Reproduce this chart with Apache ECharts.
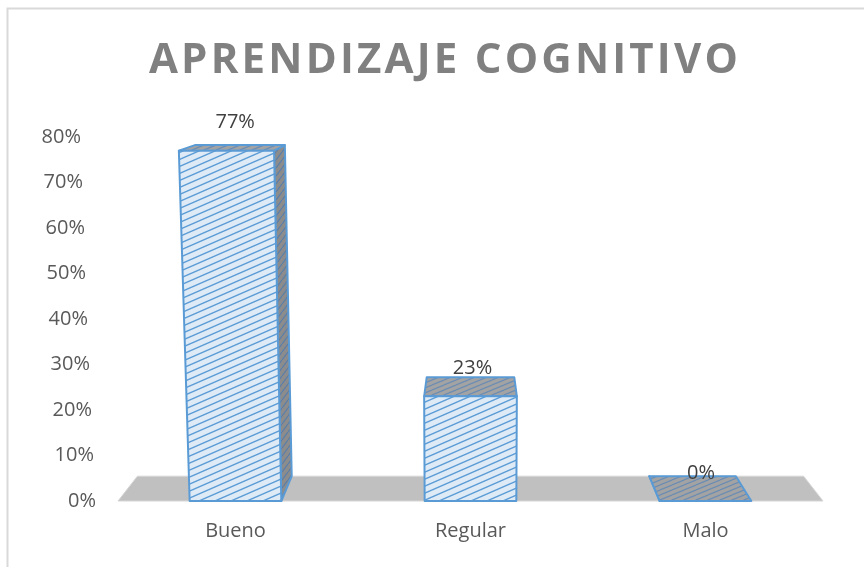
<!DOCTYPE html>
<html>
<head>
<meta charset="utf-8">
<script src="https://cdn.jsdelivr.net/npm/echarts@6/dist/echarts.min.js"></script>
<style>
  html, body { margin: 0; background: #fff; }
  #main { width: 864px; height: 567px; }
</style>
</head>
<body>
<div id="main"></div>
<script>
const titleText = 'APRENDIZAJE COGNITIVO'
const categories = ['Bueno', 'Regular', 'Malo']
const values = [77, 23, 0]
const yTicks = [0, 10, 20, 30, 40, 50, 60, 70, 80]

const FONT = '"Open Sans", "Noto Sans", sans-serif'
const DEPTH = 0.945      // back plane scale of the 3D box
const VP_RISE = 451      // vanishing point above the floor front edge
const SHEAR = 1.1e-4     // slight lean of the vertical edges

// the title is letter-spaced in the original; zrender has no option for it
const baseFillText = CanvasRenderingContext2D.prototype.fillText
CanvasRenderingContext2D.prototype.fillText = function (text, x, y, maxWidth) {
  if (text === titleText && 'letterSpacing' in this) {
    const old = this.letterSpacing
    this.letterSpacing = '3.2px'
    baseFillText.call(this, text, x, y, maxWidth)
    this.letterSpacing = old
    return
  }
  return maxWidth === undefined ? baseFillText.call(this, text, x, y) : baseFillText.call(this, text, x, y, maxWidth)
}

// small hatch tile used as a pattern fill
function hatch(bg, line, w, h, lw) {
  const c = document.createElement('canvas')
  c.width = w
  c.height = h
  const ctx = c.getContext('2d')
  ctx.fillStyle = bg
  ctx.fillRect(0, 0, w, h)
  ctx.strokeStyle = line
  ctx.lineWidth = lw
  ctx.beginPath()
  for (let k = -1; k <= 1; k++) {
    ctx.moveTo(0, h + k * h)
    ctx.lineTo(w, k * h)
  }
  ctx.stroke()
  return c
}
const frontFill = { image: hatch('#deebf7', '#5b9bd5', 16, 7, 1.4), repeat: 'repeat' }
const topFill = { image: hatch('#a3a3a3', '#6b8cb3', 12, 5, 1.2), repeat: 'repeat' }
const sideFill = { image: hatch('#8c8c8c', '#5a7ea8', 6, 8, 1.2), repeat: 'repeat' }

function project(p, vp) {
  return [vp[0] + (p[0] - vp[0]) * DEPTH, vp[1] + (p[1] - vp[1]) * DEPTH]
}

function renderFloor(params, api) {
  const cs = params.coordSys
  const base = api.coord([0, 0])[1]
  const vp = [cs.x + cs.width / 2, base - VP_RISE]
  const l = [cs.x, base]
  const r = [cs.x + cs.width, base]
  return {
    type: 'polygon',
    shape: { points: [l, r, project(r, vp), project(l, vp)] },
    style: { fill: '#c0c0c0', stroke: '#d6d6d6', lineWidth: 1 },
    silent: true
  }
}

function renderBar(params, api) {
  const cs = params.coordSys
  const bottom = api.coord([api.value(0), 0])
  const top = api.coord([api.value(0), api.value(1)])
  const vp = [cs.x + cs.width / 2, bottom[1] - VP_RISE]
  const w = api.size([1, 0])[0] * 0.39
  const xl = bottom[0] - w / 2
  const xr = bottom[0] + w / 2
  const lean = (x, y) => x + (x - vp[0]) * (bottom[1] - y) * SHEAR
  const flb = [xl, bottom[1]]
  const frb = [xr, bottom[1]]
  const flt = [lean(xl, top[1]), top[1]]
  const frt = [lean(xr, top[1]), top[1]]
  const blb = project(flb, vp)
  const brb = project(frb, vp)
  const blt = project(flt, vp)
  const brt = project(frt, vp)
  const edge = { stroke: '#5b9bd5', lineWidth: 2, lineJoin: 'round' }
  const children = []
  if (frt[0] < vp[0] - 1) {
    children.push({ type: 'polygon', shape: { points: [frb, brb, brt, frt] }, style: Object.assign({ fill: sideFill }, edge) })
  } else if (flt[0] > vp[0] + 1) {
    children.push({ type: 'polygon', shape: { points: [flb, blb, blt, flt] }, style: Object.assign({ fill: sideFill }, edge) })
  }
  children.push({ type: 'polygon', shape: { points: [flt, frt, brt, blt] }, style: Object.assign({ fill: topFill }, edge) })
  if (bottom[1] - top[1] > 0.5) {
    children.push({ type: 'polygon', shape: { points: [flb, frb, frt, flt] }, style: Object.assign({ fill: frontFill }, edge) })
  }
  children.push({
    type: 'text',
    x: (flt[0] + frt[0] + blt[0] + brt[0]) / 4 + 2,
    y: top[1] - 28,
    style: {
      text: api.value(1) + '%',
      fill: '#404040',
      font: '20px ' + FONT,
      align: 'center',
      verticalAlign: 'middle'
    }
  })
  return { type: 'group', children: children }
}

const rich = {}
yTicks.forEach((t, i) => {
  rich['p' + i] = {
    fontSize: 20,
    fontFamily: FONT,
    color: '#595959',
    padding: [0, Math.round(t * 0.19), 0, 0]
  }
})

const chart = echarts.init(document.getElementById('main'))
chart.setOption({
  animation: false,
  backgroundColor: '#fff',
  title: {
    text: titleText,
    left: 440,
    top: 35,
    textAlign: 'center',
    textStyle: {
      fontFamily: FONT,
      fontSize: 42,
      fontWeight: 'bold',
      color: '#808080'
    }
  },
  graphic: [
    {
      type: 'rect',
      shape: { x: 7.5, y: 8.5, width: 900, height: 600 },
      style: { fill: 'none', stroke: '#d9d9d9', lineWidth: 2 },
      silent: true,
      z: -10
    }
  ],
  grid: {
    left: 118,
    right: 41,
    top: 137,
    bottom: 66
  },
  xAxis: {
    type: 'category',
    data: categories,
    axisLine: { show: false },
    axisTick: { show: false },
    axisLabel: {
      margin: 20,
      fontSize: 20,
      fontFamily: FONT,
      color: '#595959'
    }
  },
  yAxis: {
    type: 'value',
    min: 0,
    max: 80,
    interval: 10,
    axisLine: { show: false },
    axisTick: { show: false },
    splitLine: { show: false },
    axisLabel: {
      margin: 22,
      formatter: (v) => '{p' + yTicks.indexOf(v) + '|' + v + '%}',
      rich: rich
    }
  },
  series: [
    {
      type: 'custom',
      name: 'floor',
      renderItem: renderFloor,
      data: [[0, 0]],
      z: 1
    },
    {
      type: 'custom',
      name: 'Aprendizaje cognitivo',
      renderItem: renderBar,
      encode: { x: 0, y: 1 },
      data: values.map((v, i) => [i, v]),
      z: 2
    }
  ]
})
</script>
</body>
</html>
